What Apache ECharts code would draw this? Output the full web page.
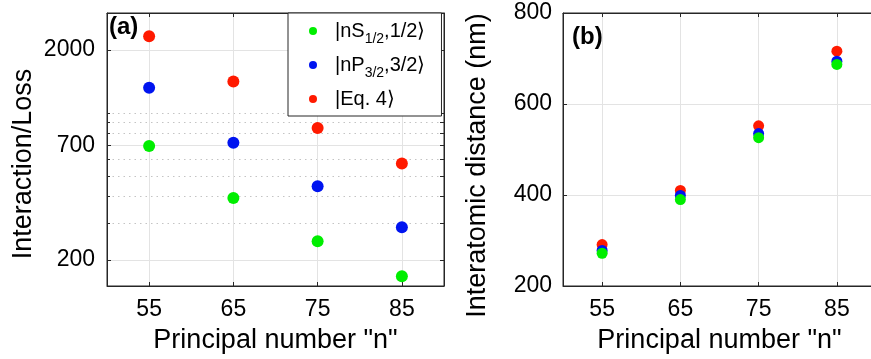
<!DOCTYPE html>
<html>
<head>
<meta charset="utf-8">
<script src="https://cdn.jsdelivr.net/npm/echarts@6.0.0/dist/echarts.min.js"></script>
<style>
html, body { margin: 0; background: #fff; }
#chart { width: 871px; height: 359px; }
</style>
</head>
<body>
<div id="chart"></div>
<script>
// principal quantum number n
const principalN = [55, 65, 75, 85];

// panel (a): interaction / loss (log scale)
const lossS = [697, 394, 245, 167];
const lossP = [1321, 722, 448, 286];
const lossEq = [2327, 1416, 849, 576];

// panel (b): interatomic distance in nm
const distS = [272, 390, 526, 687];
const distP = [278, 399, 535, 694];
const distEq = [291, 410, 552, 716];

// tick values
const nTicks = [55, 65, 75, 85];
const lossMajorTicks = [200, 700, 2000];
const lossMinorTicks = [300, 400, 500, 600, 800, 900, 1000];
const lossAllTicks = [200, 300, 400, 500, 600, 700, 800, 900, 1000, 2000];

const FONT = "'Liberation Sans', Arial, sans-serif";
const AXIS_COLOR = '#262626';
const GRID_COLOR = '#e3e3e3';
const COLORS = { S: '#00ee00', P: '#0014f0', Eq: '#ff1a00' };

const chart = echarts.init(document.getElementById('chart'));

const pairs = ys => principalN.map((n, i) => [n, ys[i]]);
const plain = v => String(v);

const lineStyle = { lineStyle: { color: AXIS_COLOR, width: 1 } };

function boxAxis(extra) {
	// frame edge with inward ticks, no labels
	return Object.assign({
		show: true,
		axisLine: Object.assign({ show: true, onZero: false }, lineStyle),
		axisTick: { show: true, inside: true, length: 4, lineStyle: { color: AXIS_COLOR } },
		axisLabel: { show: false },
		splitLine: { show: false }
	}, extra);
}

const option = {
	animation: false,
	textStyle: { fontFamily: FONT, color: '#000' },
	title: [
		{ text: '(a)', left: 109, top: 15, padding: 0,
		  textStyle: { fontFamily: FONT, fontSize: 24, fontWeight: 'bold', color: '#000' } },
		{ text: '(b)', left: 572, top: 25, padding: 0,
		  textStyle: { fontFamily: FONT, fontSize: 24, fontWeight: 'bold', color: '#000' } }
	],
	grid: [
		{ left: 107, top: 13, width: 337, height: 273, outerBoundsMode: 'none',
		  show: true, borderColor: AXIS_COLOR, borderWidth: 1, backgroundColor: 'transparent' },
		{ left: 563, top: 13, width: 313, height: 273, outerBoundsMode: 'none',
		  show: true, borderColor: AXIS_COLOR, borderWidth: 1, backgroundColor: 'transparent' }
	],
	legend: {
		left: 288, top: 13,
		orient: 'vertical',
		data: ['S', 'P', 'Eq'],
		icon: 'circle',
		itemWidth: 34, itemHeight: 8,
		itemGap: 4,
		padding: [3, 16, 2, 21],
		borderColor: AXIS_COLOR, borderWidth: 1,
		backgroundColor: '#fff',
		textStyle: {
			fontFamily: FONT, fontSize: 20, color: '#000', lineHeight: 30,
			rich: {
				m: { fontFamily: FONT, fontSize: 20, lineHeight: 30, verticalAlign: 'middle', color: '#000' },
				s: { fontFamily: FONT, fontSize: 14, lineHeight: 10, verticalAlign: 'bottom', color: '#000' }
			}
		},
		formatter: function (name) {
			if (name === 'S') return '{m||nS}{s|1/2}{m|,1/2⟩}';
			if (name === 'P') return '{m||nP}{s|3/2}{m|,3/2⟩}';
			return '{m||Eq. 4⟩}';
		}
	},
	xAxis: [
		{
			type: 'value', gridIndex: 0, position: 'bottom', min: 50, max: 90,
			axisLine: Object.assign({ onZero: false }, lineStyle),
			axisTick: { inside: true, length: 4, customValues: nTicks, lineStyle: { color: AXIS_COLOR } },
			axisLabel: { customValues: nTicks, fontSize: 23, margin: 12, color: '#000', fontFamily: FONT },
			splitLine: { show: true, lineStyle: { color: GRID_COLOR } },
			name: 'Principal number "n"', nameLocation: 'middle', nameGap: 41,
			nameTextStyle: { fontSize: 27, color: '#000', fontFamily: FONT }
		},
		boxAxis({ type: 'value', gridIndex: 0, position: 'top', min: 50, max: 90,
			axisTick: { show: true, inside: true, length: 4, customValues: nTicks, lineStyle: { color: AXIS_COLOR } } }),
		{
			type: 'value', gridIndex: 1, position: 'bottom', min: 50, max: 90,
			axisLine: Object.assign({ onZero: false }, lineStyle),
			axisTick: { inside: true, length: 4, customValues: nTicks, lineStyle: { color: AXIS_COLOR } },
			axisLabel: { customValues: nTicks, fontSize: 23, margin: 12, color: '#000', fontFamily: FONT },
			splitLine: { show: true, lineStyle: { color: GRID_COLOR } },
			name: 'Principal number "n"', nameLocation: 'middle', nameGap: 41,
			nameTextStyle: { fontSize: 27, color: '#000', fontFamily: FONT }
		},
		boxAxis({ type: 'value', gridIndex: 1, position: 'top', min: 50, max: 90,
			axisTick: { show: true, inside: true, length: 4, customValues: nTicks, lineStyle: { color: AXIS_COLOR } } })
	],
	yAxis: [
		{
			type: 'log', gridIndex: 0, position: 'left', min: 150, max: 3000,
			axisLine: Object.assign({ show: true, onZero: false }, lineStyle),
			axisTick: { show: true, inside: true, length: 4, customValues: lossMajorTicks, lineStyle: { color: AXIS_COLOR } },
			axisLabel: { customValues: lossMajorTicks, formatter: plain, fontSize: 23, margin: 12, color: '#000', fontFamily: FONT },
			splitLine: { show: true, lineStyle: { color: GRID_COLOR } },
			name: 'Interaction/Loss', nameLocation: 'middle', nameGap: 70,
			nameTextStyle: { fontSize: 27, color: '#000', fontFamily: FONT, padding: [0, 29, 0, 0] }
		},
		// minor dotted grid of panel (a)
		boxAxis({ type: 'log', gridIndex: 0, position: 'left', min: 150, max: 3000,
			axisLine: { show: false },
			axisTick: { show: true, inside: true, length: 3, customValues: lossMinorTicks, lineStyle: { color: AXIS_COLOR } },
			splitLine: { show: true, lineStyle: { color: '#c4c4c4', type: [1.5, 4] } } }),
		boxAxis({ type: 'log', gridIndex: 0, position: 'right', min: 150, max: 3000,
			axisTick: { show: true, inside: true, length: 4, customValues: lossAllTicks, lineStyle: { color: AXIS_COLOR } } }),
		{
			type: 'value', gridIndex: 1, position: 'left', min: 200, max: 800, interval: 200,
			axisLine: Object.assign({ show: true, onZero: false }, lineStyle),
			axisTick: { show: true, inside: true, length: 4, lineStyle: { color: AXIS_COLOR } },
			axisLabel: { fontSize: 23, margin: 11, color: '#000', fontFamily: FONT },
			splitLine: { show: true, lineStyle: { color: GRID_COLOR } },
			name: 'Interatomic distance (nm)', nameLocation: 'middle', nameGap: 72,
			nameTextStyle: { fontSize: 27, color: '#000', fontFamily: FONT, padding: [0, 32, 0, 0] }
		}
	],
	series: [
		{ name: 'Eq', type: 'scatter', xAxisIndex: 0, yAxisIndex: 0, data: pairs(lossEq),
		  symbolSize: 12, itemStyle: { color: COLORS.Eq, opacity: 1 }, z: 2 },
		{ name: 'P', type: 'scatter', xAxisIndex: 0, yAxisIndex: 0, data: pairs(lossP),
		  symbolSize: 12, itemStyle: { color: COLORS.P, opacity: 1 }, z: 3 },
		{ name: 'S', type: 'scatter', xAxisIndex: 0, yAxisIndex: 0, data: pairs(lossS),
		  symbolSize: 12, itemStyle: { color: COLORS.S, opacity: 1 }, z: 4 },
		{ name: 'Eq', type: 'scatter', xAxisIndex: 2, yAxisIndex: 3, data: pairs(distEq),
		  symbolSize: 11, itemStyle: { color: COLORS.Eq, opacity: 1 }, z: 2 },
		{ name: 'P', type: 'scatter', xAxisIndex: 2, yAxisIndex: 3, data: pairs(distP),
		  symbolSize: 11, itemStyle: { color: COLORS.P, opacity: 1 }, z: 3 },
		{ name: 'S', type: 'scatter', xAxisIndex: 2, yAxisIndex: 3, data: pairs(distS),
		  symbolSize: 11, itemStyle: { color: COLORS.S, opacity: 1 }, z: 4 }
	]
};

chart.setOption(option);
</script>
</body>
</html>
